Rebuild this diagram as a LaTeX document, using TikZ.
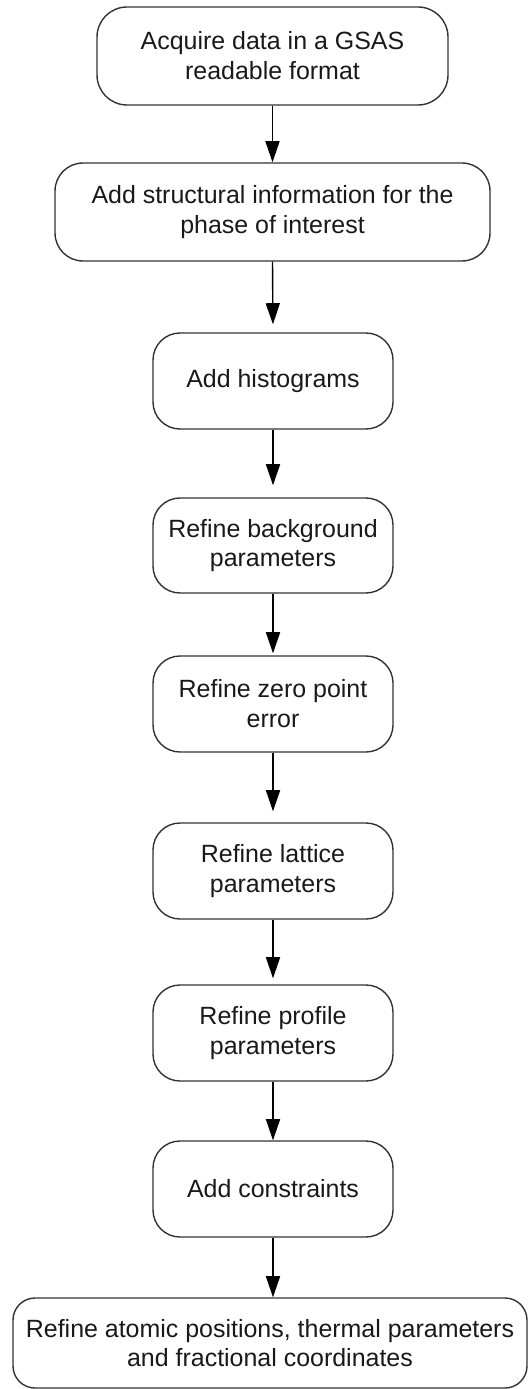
\documentclass[tikz,border=0pt]{standalone}
\usepackage{fontspec}
\setmainfont{Liberation Sans}
\usetikzlibrary{arrows.meta}
\begin{document}
\begin{tikzpicture}[
  stepbox/.style={draw=black!80, line width=0.8pt, rounded corners=0.54cm,
    minimum width=4.8cm, minimum height=1.92cm, inner sep=0pt, align=center,
    font=\fontsize{14.2pt}{17pt}\selectfont, text=black!90},
  flow/.style={draw=black, line width=0.8pt, -{Triangle[length=12pt,width=8pt]}}
]
\useasboundingbox (0,0) rectangle (10.56,-27.78);
\node[stepbox, minimum width=7.02cm, minimum height=1.96cm, rounded corners=0.6cm] (n1) at (5.45,-1.12) {Acquire data in a GSAS\\readable format};
\node[stepbox, minimum width=8.70cm, minimum height=1.96cm, rounded corners=0.56cm] (n2) at (5.45,-4.24) {Add structural information for the\\phase of interest};
\node[stepbox] (n3) at (5.46,-7.62) {Add histograms};
\node[stepbox, minimum height=1.90cm] (n4) at (5.46,-10.91) {Refine background\\parameters};
\node[stepbox] (n5) at (5.46,-14.08) {Refine zero point\\error};
\node[stepbox] (n6) at (5.46,-17.42) {Refine lattice\\parameters};
\node[stepbox] (n7) at (5.46,-20.66) {Refine profile\\parameters};
\node[stepbox] (n8) at (5.46,-23.78) {Add constraints};
\node[stepbox, minimum width=10.28cm, minimum height=1.80cm, rounded corners=0.44cm] (n9) at (5.40,-26.86) {Refine atomic positions, thermal parameters\\and fractional coordinates};
\draw[flow] (n1.south) -- (n2.north);
\draw[flow, shorten >=0.16cm] (n2.south) -- (n3.north);
\draw[flow, shorten >=0.24cm] (n3.south) -- (n4.north);
\draw[flow, shorten >=0.04cm] (n4.south) -- (n5.north);
\draw[flow, shorten >=0.22cm] (n5.south) -- (n6.north);
\draw[flow, shorten >=0.12cm] (n6.south) -- (n7.north);
\draw[flow] (n7.south) -- (n8.north);
\draw[flow] (n8.south) -- (n8.south |- n9.north);
\end{tikzpicture}
\end{document}
